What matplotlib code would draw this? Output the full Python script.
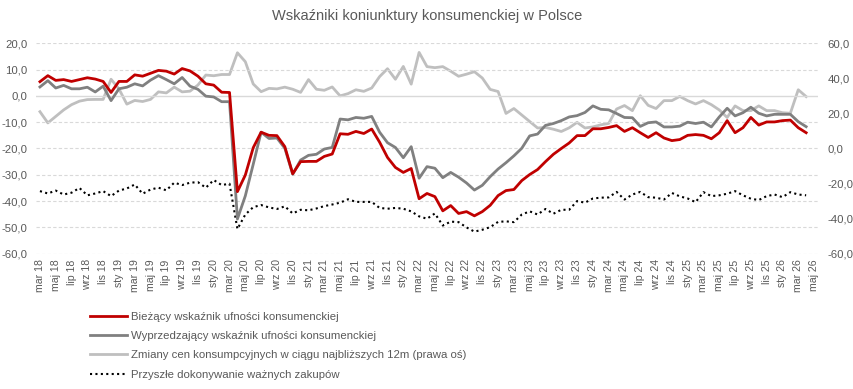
import matplotlib
matplotlib.use("Agg")
import matplotlib.pyplot as plt
from matplotlib.ticker import FixedLocator, FuncFormatter

plt.rcParams['font.family'] = ['Liberation Sans', 'DejaVu Sans']

# ---- data (monthly, mar 2018 .. kwi 2026) ----
month_abbr = ["sty", "lut", "mar", "kwi", "maj", "cze", "lip", "sie", "wrz", "paź", "lis", "gru"]
start_year, start_month = 2018, 3      # first category: mar 18
n_categories = 99                      # axis runs to maj 26

biezacy = [5.4, 7.7, 5.9, 6.2, 5.5, 6.2, 6.9, 6.4, 5.5, 1.3, 5.5, 5.5, 8.0, 7.5,
           8.6, 9.7, 9.4, 8.3, 10.4, 9.5, 7.5, 4.6, 4.1, 1.4, 1.3, -36.4, -30.1, -19.7,
           -13.8, -15.0, -15.1, -19.3, -29.6, -25.0, -24.9, -24.9, -23.0, -22.1, -14.4, -14.6, -13.5, -14.3,
           -12.6, -17.6, -23.4, -27.2, -29.1, -27.6, -39.1, -37.1, -38.3, -43.7, -41.7, -44.7, -44.0, -45.6,
           -44.0, -41.6, -37.9, -36.0, -35.6, -32.2, -29.9, -28.0, -25.0, -22.2, -20.0, -17.9, -15.1, -15.1,
           -12.5, -12.5, -12.0, -11.3, -13.5, -12.1, -14.0, -15.8, -14.0, -16.0, -17.0, -16.6, -15.0, -14.7,
           -15.0, -16.3, -14.0, -9.4, -14.0, -12.1, -8.2, -11.1, -9.9, -9.9, -9.4, -9.2, -12.1, -14.0]

wyprzedzajacy = [3.4, 5.8, 3.0, 4.0, 2.7, 2.7, 3.3, 1.5, 3.7, -1.8, 2.7, 3.3, 4.6, 3.8,
                 6.0, 7.7, 6.2, 4.6, 7.0, 3.7, 2.5, -0.1, -0.4, -2.2, -2.2, -46.8, -38.0, -26.0,
                 -13.8, -16.2, -16.0, -19.9, -29.8, -24.4, -22.6, -22.2, -20.2, -19.6, -8.8, -9.1, -8.2, -8.5,
                 -7.8, -13.8, -17.8, -19.6, -23.5, -19.3, -31.3, -26.9, -27.5, -31.1, -29.1, -30.9, -33.1, -35.8,
                 -34.0, -30.7, -27.8, -25.4, -22.8, -19.9, -15.2, -14.5, -11.2, -10.5, -9.4, -8.0, -7.5, -6.3,
                 -3.8, -5.1, -5.3, -6.7, -8.2, -8.3, -11.6, -10.2, -9.9, -11.8, -11.8, -11.5, -10.0, -10.5,
                 -10.0, -11.8, -8.0, -4.7, -7.6, -6.4, -4.3, -6.6, -7.6, -7.0, -7.0, -7.0, -9.8, -11.7]

ceny_12m = [21.0, 14.6, 18.3, 22.0, 25.0, 27.0, 27.9, 28.0, 28.0, 39.5, 34.0, 25.3, 27.4, 26.8,
            28.0, 32.3, 31.7, 35.0, 32.3, 32.7, 36.2, 41.9, 41.5, 42.2, 42.2, 54.6, 49.5, 36.8,
            32.4, 34.3, 34.0, 35.0, 33.8, 32.0, 39.3, 33.8, 33.2, 35.1, 30.0, 31.3, 33.5, 32.6,
            34.5, 41.0, 45.5, 39.5, 46.8, 36.7, 54.8, 46.7, 46.1, 46.7, 44.1, 41.2, 42.4, 43.8,
            40.2, 33.7, 32.5, 20.0, 22.8, 19.1, 15.4, 11.7, 12.0, 11.0, 9.7, 11.8, 14.9, 11.7,
            12.3, 13.5, 14.3, 22.5, 24.5, 21.6, 30.1, 24.6, 22.8, 27.3, 27.3, 29.7, 27.3, 25.4,
            27.3, 25.0, 22.0, 17.7, 24.3, 21.6, 21.6, 24.3, 21.6, 21.6, 20.4, 20.1, 33.5, 29.6]

zakupy = [-36.2, -37.1, -36.0, -37.5, -36.8, -35.0, -37.8, -37.1, -36.2, -38.1, -36.0, -35.2, -33.7, -37.2,
          -35.6, -34.9, -35.9, -33.0, -33.9, -33.0, -32.8, -34.9, -32.0, -33.9, -33.4, -50.6, -45.1, -42.3,
          -41.5, -42.4, -43.0, -42.0, -44.7, -43.3, -43.5, -42.8, -41.9, -41.3, -40.6, -39.3, -40.3, -40.3,
          -40.3, -42.6, -42.9, -42.6, -42.9, -43.9, -45.8, -46.7, -44.7, -49.3, -47.8, -48.0, -50.0, -51.6,
          -50.9, -49.9, -47.9, -47.7, -48.0, -45.1, -43.9, -45.1, -43.0, -44.8, -43.3, -43.3, -40.0, -40.6,
          -39.0, -38.7, -38.6, -36.5, -39.4, -37.5, -36.5, -38.5, -38.7, -39.4, -36.9, -38.2, -39.0, -40.4,
          -36.6, -38.1, -37.8, -37.2, -36.2, -37.8, -39.1, -39.6, -38.1, -37.5, -38.5, -36.6, -37.5, -37.8]

series_labels = ["Bieżący wskaźnik ufności konsumenckiej",
                 "Wyprzedzający wskaźnik ufności konsumenckiej",
                 "Zmiany cen konsumpcyjnych w ciągu najbliższych 12m (prawa oś)",
                 "Przyszłe dokonywanie ważnych zakupów"]
title = "Wskaźniki koniunktury konsumenckiej w Polsce"
left_ticks = [20, 10, 0, -10, -20, -30, -40, -50, -60]
right_ticks = [60, 40, 20, 0, -20, -40, -60]

# category labels
categories = []
for k in range(n_categories):
    m = (start_month - 1 + k) % 12
    y = start_year + (start_month - 1 + k) // 12
    categories.append(f"{month_abbr[m]} {y % 100:02d}")

# ---- figure ----
TXT = "#595959"
fig = plt.figure(figsize=(8.54, 3.89), dpi=100)
ax = fig.add_axes([36/854, 1-253.7/389, (818-36)/854, (253.7-43.3)/389])
ax2 = ax.twinx()

x = list(range(len(biezacy)))
ax.set_xlim(-0.5, n_categories - 0.5)
ax.set_ylim(-60, 20)
ax2.set_ylim(-60, 60)

for v in left_ticks:
    if v == 0:
        ax.axhline(v, color="#D9D9D9", lw=1.0, zorder=1)
    else:
        ax.axhline(v, color="#D9D9D9", lw=0.8, ls=(0, (3, 2)), zorder=1)

l3, = ax2.plot(x, ceny_12m, color="#BFBFBF", lw=2.0, solid_joinstyle="round", zorder=2)
l4, = ax.plot(x, zakupy, color="#000000", lw=1.5, ls=(0, (1, 1.6)), zorder=3)
l2, = ax.plot(x, wyprzedzajacy, color="#808080", lw=2.0, solid_joinstyle="round", zorder=4)
l1, = ax.plot(x, biezacy, color="#C00000", lw=2.0, solid_joinstyle="round", zorder=5)
ax.set_zorder(ax2.get_zorder() + 1)
ax.patch.set_visible(False)

fmt = FuncFormatter(lambda v, p: f"{v:.1f}".replace(".", ","))
ax.yaxis.set_major_locator(FixedLocator(left_ticks))
ax.yaxis.set_major_formatter(fmt)
ax2.yaxis.set_major_locator(FixedLocator(right_ticks))
ax2.yaxis.set_major_formatter(fmt)

ax.set_xticks(range(0, n_categories, 2))
ax.set_xticklabels(categories[::2], rotation=90, fontsize=7.6, color=TXT)
ax.tick_params(axis="x", length=0, pad=4)
ax.tick_params(axis="y", length=0, pad=6, labelsize=8.2, labelcolor=TXT)
ax2.tick_params(axis="y", length=0, pad=7, labelsize=8.2, labelcolor=TXT)
for a in (ax, ax2):
    for s in a.spines.values():
        s.set_visible(False)

fig.text(427/854, 1-16/389, title, ha="center", va="center", fontsize=10.5, color=TXT)

leg = fig.legend([l1, l2, l3, l4], series_labels, loc="upper left",
                 bbox_to_anchor=(84/854, 1-306/389), frameon=False, fontsize=8.2,
                 handlelength=3.3, handletextpad=0.35, labelspacing=0.82, borderpad=0)
for t in leg.get_texts():
    t.set_color(TXT)

fig.savefig("out.png", dpi=100)
